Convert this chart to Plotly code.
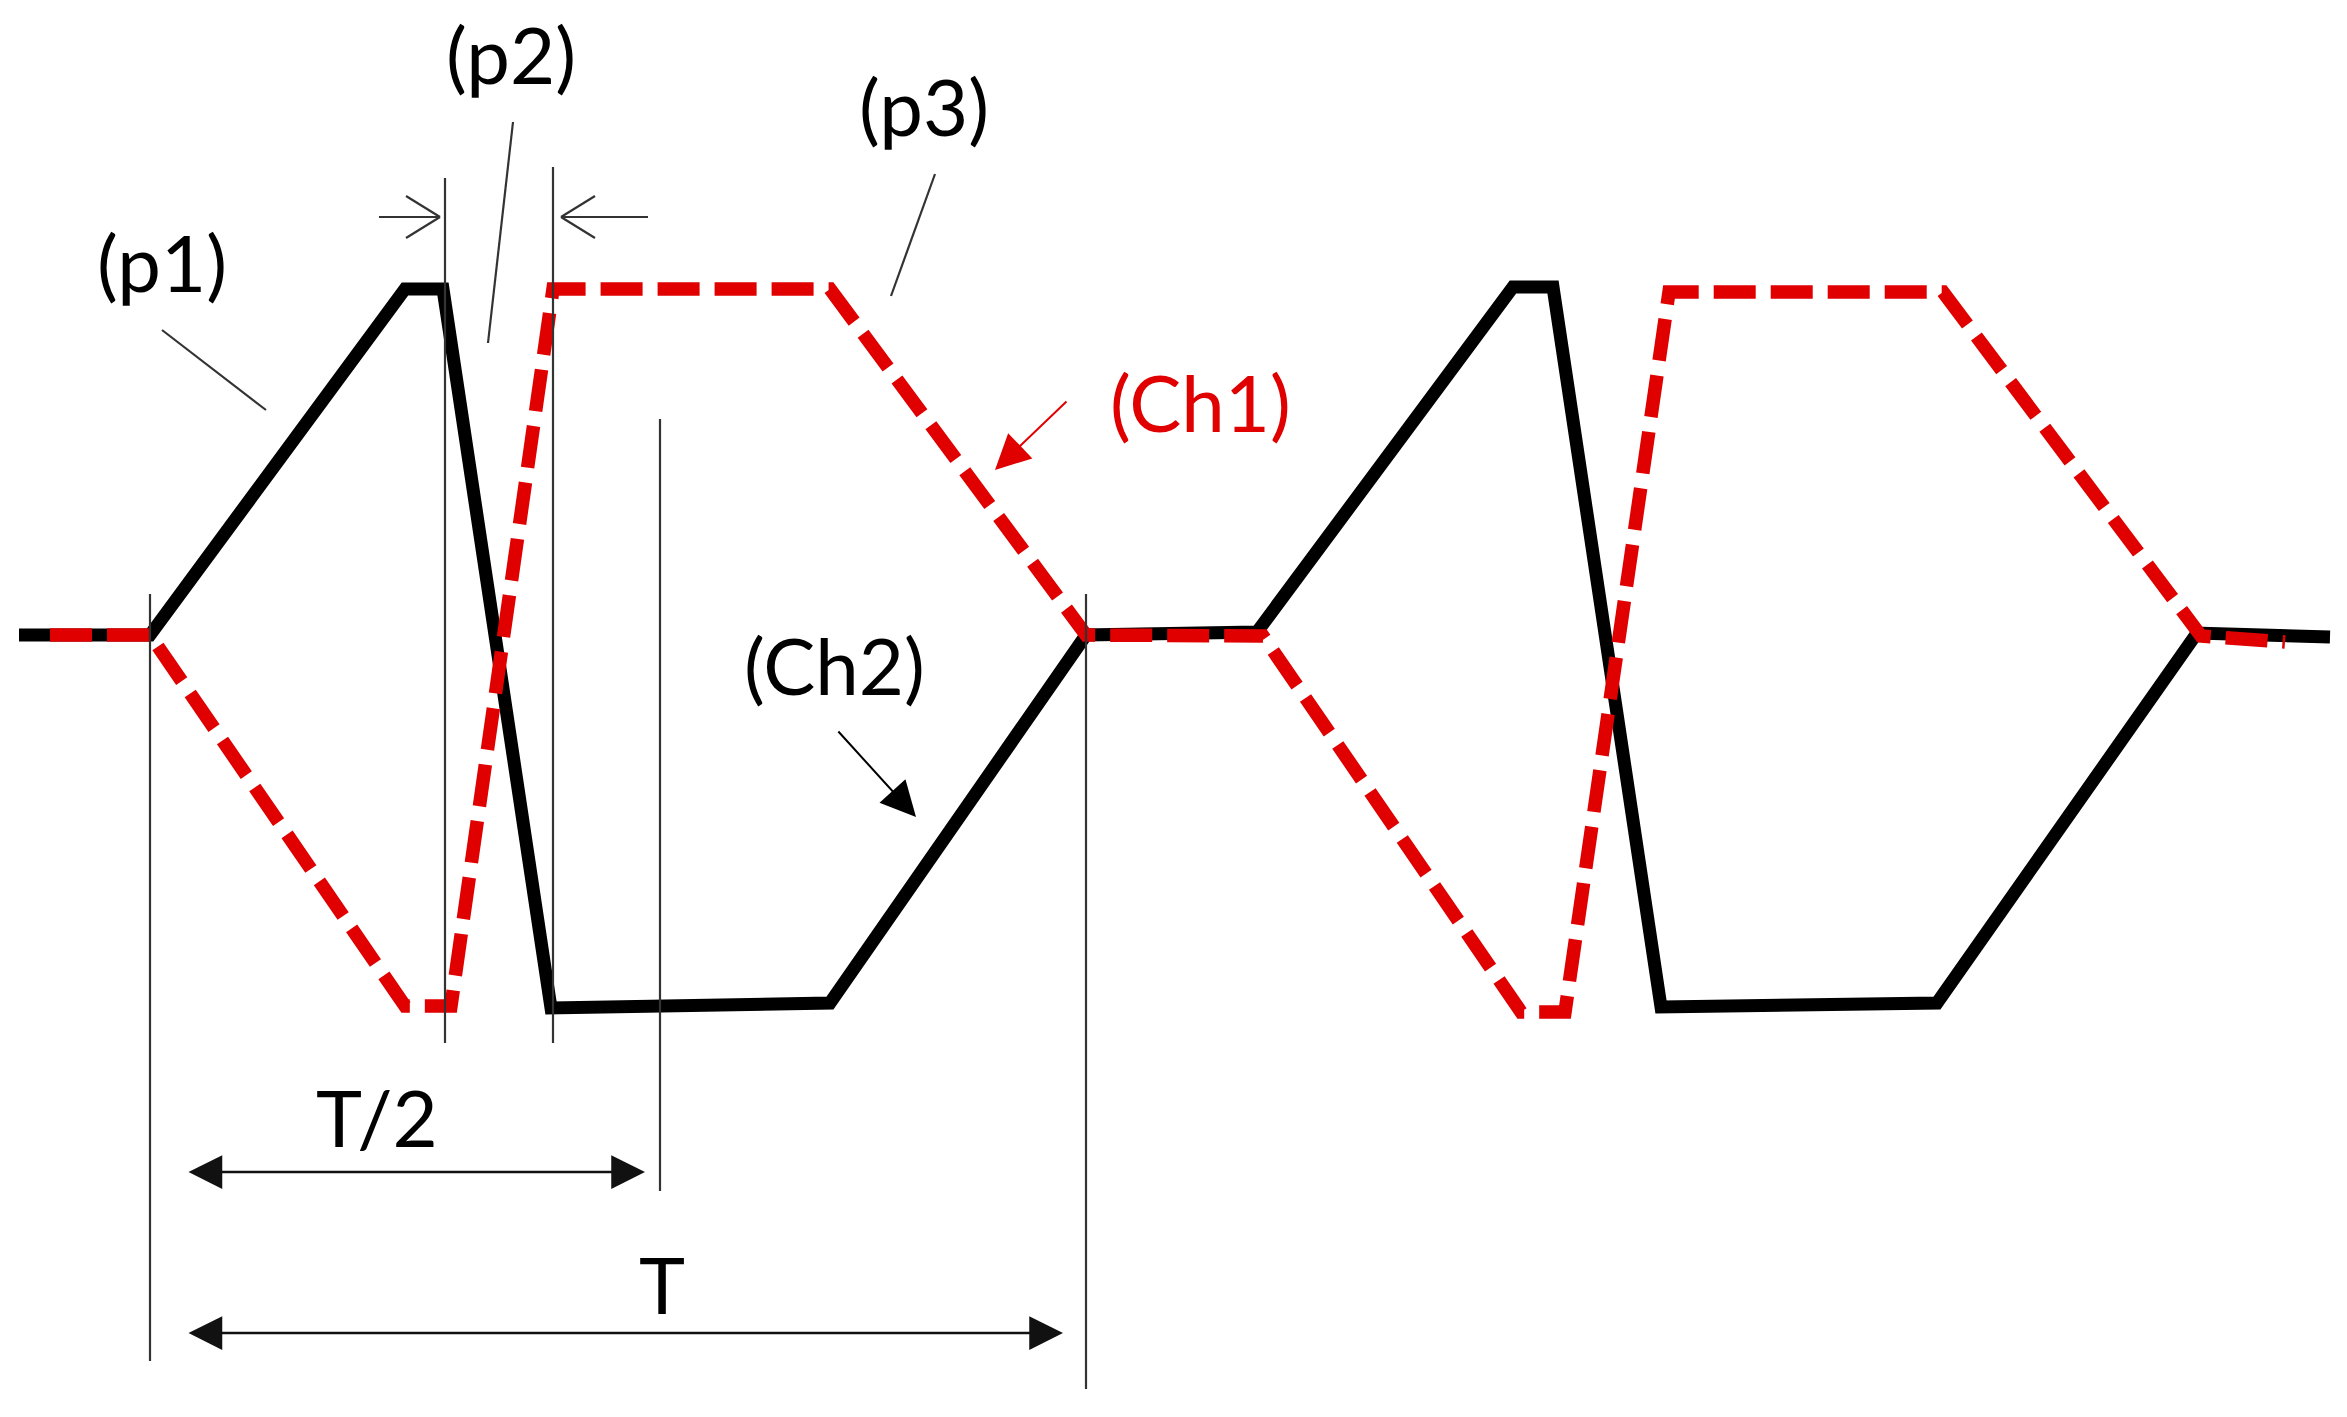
import plotly.graph_objects as go

W, H = 2347, 1417
OFF = 8  # page body margin compensation

# ---- waveform data (time position, level) ----
# Ch2: black solid
ch2_t = [19, 150, 405, 443, 551, 830, 1086, 1257, 1513, 1553, 1661, 1937, 2197, 2330]
ch2_v = [635, 635, 289, 289, 1008, 1003, 635, 632, 287, 287, 1007, 1003, 633, 637]
# Ch1: red dashed
ch1_t = [50, 150, 405, 451, 553, 830, 1086, 1263, 1521, 1565, 1669, 1943, 2201, 2285]
ch1_v = [635, 635, 1006, 1006, 289, 289, 635, 636, 1012, 1012, 292, 292, 636, 642]

# ---- guide lines ----
guide_x = [150, 445, 553, 660, 1086]
guide_y0 = [594, 178, 167, 419, 594]
guide_y1 = [1361, 1043, 1043, 1191, 1389]

# leader lines for (p1), (p2), (p3)
leader_x0 = [162, 513, 935]
leader_y0 = [330, 122, 174]
leader_x1 = [266, 488, 891]
leader_y1 = [410, 343, 296]

# labels
labels = ["(p1)", "(p2)", "(p3)", "(Ch1)", "(Ch2)", "T/2", "T"]
label_x = [162, 511, 924, 1200, 834, 377, 662]
label_y = [262, 54, 106, 402, 665, 1117, 1284]
label_col = ["black", "black", "black", "#e00000", "black", "black", "black"]

# pointer arrows (tip, tail)
ptr_tip_x = [995, 916]
ptr_tip_y = [470, 817]
ptr_tail_x = [1068, 837]
ptr_tail_y = [400, 730]
ptr_col = ["#e00000", "black"]

# dimension arrows (T/2, T)
dim_y = [1172, 1333]
dim_x0 = [187, 187]
dim_x1 = [645, 1063]

# gap arrows (p2 width)
gap_tip_x = [440, 561]
gap_tail_x = [379, 648]
gap_y = 217

RED = "#e00000"
GUIDE = "#333333"

fig = go.Figure()
fig.add_trace(go.Scatter(x=ch2_t, y=ch2_v, mode="lines",
                         line=dict(color="black", width=13), hoverinfo="skip"))
fig.add_trace(go.Scatter(x=ch1_t, y=ch1_v, mode="lines",
                         line=dict(color=RED, width=13.5, dash="42px,15px"), hoverinfo="skip"))

shapes = []
for x, y0, y1 in zip(guide_x, guide_y0, guide_y1):
    shapes.append(dict(type="line", x0=x, x1=x, y0=y0, y1=y1, xref="x", yref="y",
                       line=dict(color=GUIDE, width=2.2)))
for x0, y0, x1, y1 in zip(leader_x0, leader_y0, leader_x1, leader_y1):
    shapes.append(dict(type="line", x0=x0, x1=x1, y0=y0, y1=y1, xref="x", yref="y",
                       line=dict(color=GUIDE, width=2.2)))
# gap arrows: shaft + open chevron
for tip, tail in zip(gap_tip_x, gap_tail_x):
    d = 1 if tail < tip else -1
    shapes.append(dict(type="line", x0=tail, x1=tip, y0=gap_y, y1=gap_y, xref="x", yref="y",
                       line=dict(color=GUIDE, width=2.2)))
    for s in (-1, 1):
        shapes.append(dict(type="line", x0=tip, x1=tip - d * 34, y0=gap_y, y1=gap_y + s * 21,
                           xref="x", yref="y", line=dict(color=GUIDE, width=2.2)))

annotations = []
for t, x, y, c in zip(labels, label_x, label_y, label_col):
    annotations.append(dict(x=x, y=y, xref="x", yref="y", text=t, showarrow=False,
                            xanchor="center", yanchor="middle",
                            font=dict(family="Lato", size=78, color=c)))
for tx, ty, ax, ay, c in zip(ptr_tip_x, ptr_tip_y, ptr_tail_x, ptr_tail_y, ptr_col):
    annotations.append(dict(x=tx, y=ty, ax=ax, ay=ay, xref="x", yref="y", axref="x", ayref="y",
                            text="", showarrow=True, arrowhead=2, arrowsize=3.5, arrowwidth=2,
                            arrowcolor=c, standoff=0))
for y, x0, x1 in zip(dim_y, dim_x0, dim_x1):
    annotations.append(dict(x=x1, y=y, ax=x0, ay=y, xref="x", yref="y", axref="x", ayref="y",
                            text="", showarrow=True, arrowhead=2, startarrowhead=2,
                            arrowside="end+start", arrowsize=2.7, startarrowsize=2.7,
                            arrowwidth=2.5, arrowcolor="#111111", standoff=0, startstandoff=0))

fig.update_layout(
    width=W, height=H, autosize=False,
    margin=dict(l=0, r=0, t=0, b=0, pad=0),
    paper_bgcolor="white", plot_bgcolor="white",
    showlegend=False,
    xaxis=dict(range=[OFF, W + OFF], visible=False, fixedrange=True),
    yaxis=dict(range=[H + OFF, OFF], visible=False, fixedrange=True),
    shapes=shapes, annotations=annotations,
)

fig.write_html("out.html", config={"displayModeBar": False})
